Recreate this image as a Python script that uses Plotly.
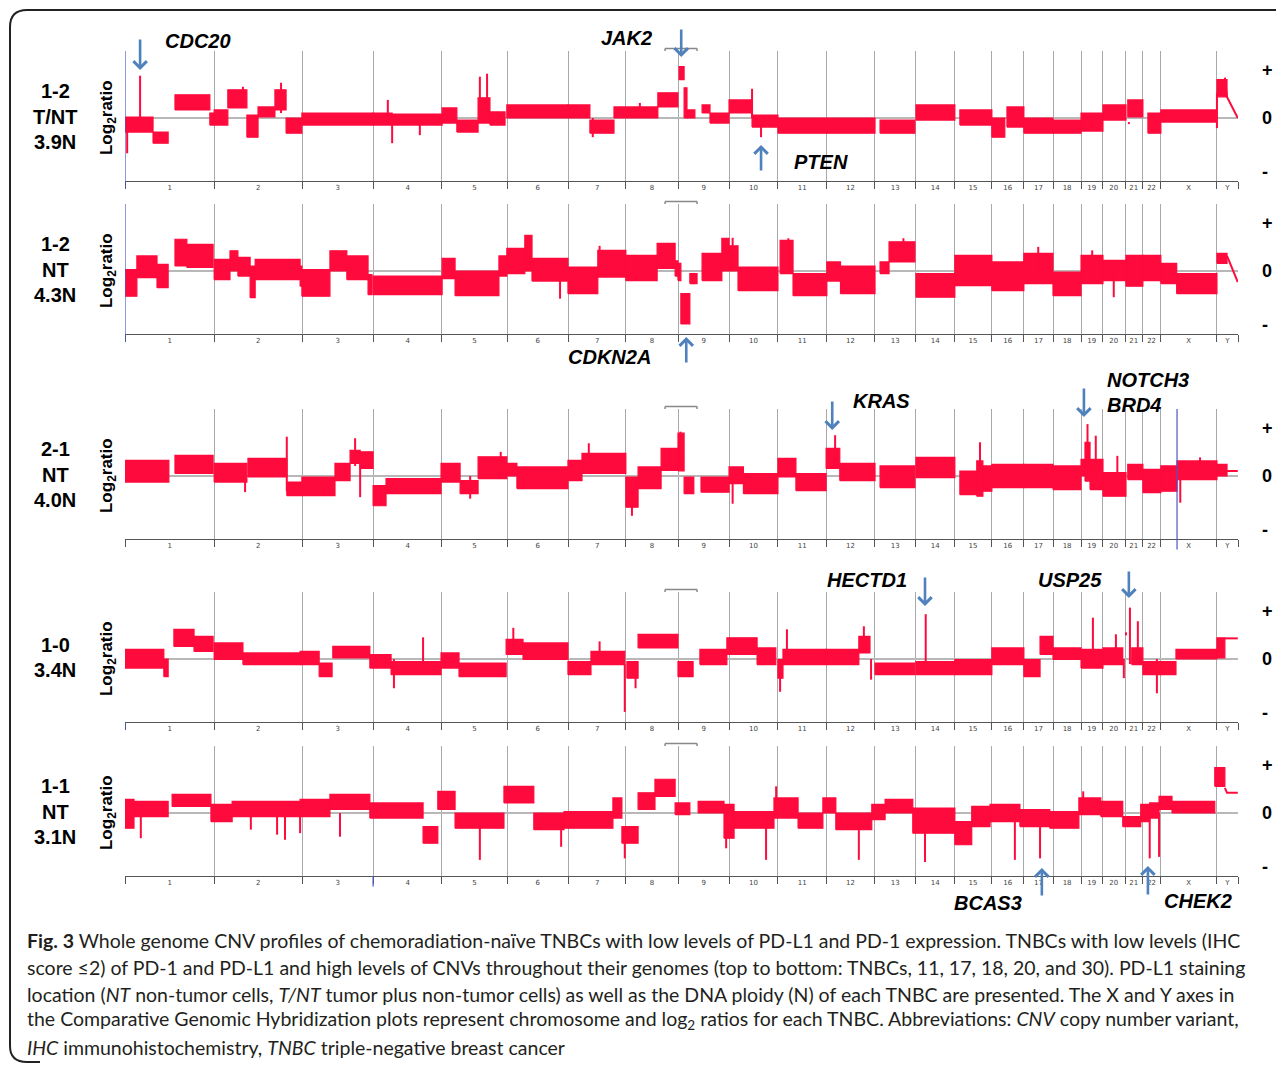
import plotly.graph_objects as go

# ---------------- data ----------------
CHROM_NAMES = [str(i) for i in range(1, 23)] + ["X", "Y"]
CHROM_LEN_MB = [249.25, 243.2, 198.0, 191.15, 180.9, 171.1, 159.1, 146.35, 141.2,
                135.55, 135.0, 133.85, 115.15, 107.35, 102.55, 90.35, 81.2, 78.1,
                59.1, 63.0, 48.1, 51.3, 155.3, 59.4]

PANEL_ID = ["1-2", "1-2", "2-1", "1-0", "1-1"]
PANEL_STAIN = ["T/NT", "NT", "NT", "", "NT"]
PANEL_PLOIDY = ["3.9N", "4.3N", "4.0N", "3.4N", "3.1N"]

# segments: [start Mb (genome), end Mb, low log2 ratio, high log2 ratio]
P1_SEG = [
    [0, 78, -0.28, 0.02], [78, 120, -0.5, -0.28], [139, 236, 0.16, 0.46], [236, 248, -0.14, 0.1],
    [248, 286, -0.14, 0.16], [286, 339, 0.2, 0.56], [339, 370, -0.38, 0.06], [370, 417, 0.02, 0.22],
    [417, 448, 0.16, 0.56], [448, 492, -0.3, 0.0], [492, 690, -0.14, 0.1], [690, 743, -0.14, 0.1],
    [743, 882, -0.14, 0.08], [882, 923, -0.1, 0.2], [923, 982, -0.28, -0.04], [982, 1015, -0.1, 0.4],
    [1015, 1057, -0.14, 0.12], [1062, 1232, 0.0, 0.26], [1232, 1293, 0.0, 0.26], [1293, 1360, -0.3, -0.04],
    [1360, 1482, 0.0, 0.22], [1482, 1538, 0.22, 0.5], [1541, 1555, 0.76, 1.02], [1555, 1563, 0.0, 0.6],
    [1563, 1585, 0.0, 0.16], [1605, 1627, 0.1, 0.26], [1627, 1680, -0.1, 0.1], [1680, 1744, 0.1, 0.36],
    [1744, 1816, -0.18, 0.06], [1816, 1952, -0.3, 0.0], [1952, 2086, -0.3, 0.0], [2100, 2197, -0.3, -0.04],
    [2200, 2308, -0.04, 0.26], [2322, 2411, -0.14, 0.16], [2411, 2447, -0.38, 0.0], [2453, 2500, -0.18, 0.22],
    [2500, 2581, -0.3, 0.0], [2581, 2659, -0.3, -0.04], [2659, 2720, -0.26, 0.1], [2720, 2784, -0.04, 0.26],
    [2789, 2831, 0.02, 0.36], [2845, 2881, -0.3, 0.1], [2881, 3037, -0.08, 0.16], [3037, 3065, 0.42, 0.76],
]
P1_SPK = [[6, -0.7, 0.0], [42, -0.1, 0.84], [328, 0.2, 0.62], [434, 0.1, 0.7], [731, -0.1, 0.36],
          [743, -0.5, 0.0], [820, -0.34, 0.0], [987, 0.0, 0.82], [1007, 0.0, 0.88], [1301, -0.38, 0.0],
          [1432, 0.0, 0.3], [1744, 0.0, 0.58], [1769, -0.38, 0.0], [3037, -0.2, 0.5], [2792, -0.12, -0.08]]
P1_TAIL = [[3059, 0.8], [3065, 0.42], [3095, 0.0]]

P2_SEG = [
    [0, 33, -0.5, 0.03], [33, 89, -0.13, 0.3], [89, 120, -0.33, 0.13], [139, 172, 0.1, 0.63],
    [172, 245, 0.07, 0.53], [248, 292, -0.17, 0.23], [292, 314, 0.0, 0.4], [314, 348, -0.1, 0.27],
    [348, 362, -0.53, 0.1], [362, 487, -0.17, 0.23], [487, 492, -0.3, 0.1], [492, 570, -0.5, 0.03],
    [570, 617, 0.0, 0.4], [617, 676, -0.17, 0.3], [676, 687, -0.47, -0.07], [690, 882, -0.47, -0.1],
    [882, 918, -0.15, 0.25], [918, 1040, -0.49, 0.0], [1040, 1062, -0.1, 0.3], [1062, 1112, -0.05, 0.45],
    [1112, 1132, 0.0, 0.71], [1132, 1232, -0.2, 0.25], [1232, 1315, -0.45, 0.08], [1315, 1393, -0.12, 0.41],
    [1393, 1480, -0.19, 0.31], [1480, 1530, 0.05, 0.55], [1530, 1538, -0.1, 0.2], [1538, 1546, -0.19, 0.15],
    [1546, 1571, -1.05, -0.45], [1571, 1591, -0.25, -0.05], [1605, 1660, -0.19, 0.35], [1660, 1680, 0.0, 0.65],
    [1680, 1705, 0.0, 0.5], [1705, 1816, -0.39, 0.08], [1822, 1858, -0.05, 0.61], [1858, 1952, -0.49, -0.05],
    [1952, 1990, -0.2, 0.18], [1990, 2086, -0.45, 0.1], [2100, 2125, -0.05, 0.18], [2125, 2197, 0.18, 0.58],
    [2200, 2308, -0.52, -0.05], [2308, 2411, -0.29, 0.31], [2411, 2500, -0.39, 0.18], [2500, 2581, -0.25, 0.35],
    [2581, 2659, -0.49, -0.02], [2659, 2720, -0.25, 0.31], [2720, 2784, -0.19, 0.21], [2784, 2831, -0.3, 0.31],
    [2831, 2881, -0.19, 0.31], [2881, 2925, -0.25, 0.15], [2925, 3037, -0.45, -0.05], [3037, 3065, 0.15, 0.35],
]
P2_SPK = [[1210, -0.55, 0.0], [1320, 0.0, 0.5], [1670, 0.2, 0.65], [1690, 0.0, 0.66], [1845, 0.0, 0.65],
          [2165, 0.2, 0.65], [2540, 0.0, 0.48], [2690, 0.0, 0.41], [2750, -0.52, 0.0], [1122, 0.0, 0.71]]
P2_TAIL = [[3065, 0.3], [3095, -0.22]]

P3_SEG = [
    [0, 122, -0.12, 0.31], [139, 245, 0.05, 0.41], [248, 339, -0.12, 0.25], [342, 450, -0.02, 0.35],
    [450, 492, -0.39, -0.12], [492, 584, -0.39, -0.02], [584, 626, -0.09, 0.25], [626, 654, 0.25, 0.51],
    [654, 690, 0.15, 0.48], [690, 726, -0.59, -0.19], [726, 879, -0.35, -0.05], [879, 932, -0.12, 0.25],
    [932, 982, -0.35, -0.09], [982, 1062, -0.05, 0.38], [1062, 1090, 0.0, 0.25], [1090, 1232, -0.25, 0.18],
    [1232, 1271, -0.09, 0.31], [1271, 1393, 0.05, 0.45], [1393, 1427, -0.62, -0.02], [1427, 1491, -0.25, 0.18],
    [1491, 1538, 0.11, 0.55], [1538, 1555, 0.1, 0.85], [1555, 1582, -0.35, -0.02], [1602, 1680, -0.32, -0.02],
    [1680, 1720, -0.15, 0.18], [1720, 1816, -0.35, 0.05], [1816, 1866, -0.02, 0.35], [1866, 1950, -0.29, 0.05],
    [1950, 1988, 0.15, 0.55], [1988, 2086, -0.09, 0.25], [2100, 2197, -0.23, 0.2], [2200, 2308, -0.03, 0.37],
    [2322, 2369, -0.37, 0.1], [2369, 2386, -0.4, 0.3], [2386, 2411, -0.3, 0.2], [2411, 2500, -0.23, 0.23],
    [2500, 2581, -0.23, 0.23], [2581, 2659, -0.27, 0.2], [2659, 2670, 0.0, 0.33], [2670, 2684, -0.1, 0.67],
    [2684, 2720, -0.27, 0.33], [2720, 2784, -0.4, 0.07], [2789, 2831, -0.07, 0.23], [2831, 2881, -0.33, 0.13],
    [2881, 2926, -0.3, 0.2], [2926, 3037, -0.07, 0.3], [3037, 3065, 0.0, 0.23],
]
P3_SPK = [[334, -0.32, 0.0], [450, -0.3, 0.78], [640, 0.2, 0.75], [654, -0.42, 0.3], [960, -0.45, 0.0],
          [1045, 0.0, 0.48], [1290, 0.1, 0.65], [1410, -0.79, -0.3], [1545, 0.3, 0.88], [1690, -0.55, 0.0],
          [1975, 0.2, 0.81], [2378, 0.0, 0.67], [2677, 0.1, 1.03], [2700, 0.0, 0.8], [2760, 0.0, 0.4],
          [2935, -0.53, 0.0], [2990, 0.0, 0.37]]
P3_TAIL = [[3065, 0.1], [3095, 0.1]]

P4_SEG = [
    [0, 108, -0.18, 0.19], [108, 120, -0.35, 0.0], [136, 192, 0.25, 0.59], [192, 245, 0.15, 0.45],
    [248, 328, -0.01, 0.32], [328, 487, -0.11, 0.12], [487, 540, -0.11, 0.15], [540, 576, -0.35, -0.08],
    [578, 681, 0.02, 0.25], [681, 740, -0.18, 0.09], [740, 879, -0.31, -0.05], [879, 929, -0.18, 0.12],
    [929, 1060, -0.35, -0.08], [1060, 1107, 0.09, 0.39], [1107, 1232, -0.01, 0.32], [1232, 1296, -0.31, -0.05],
    [1296, 1390, -0.11, 0.15], [1396, 1427, -0.38, -0.05], [1427, 1538, 0.22, 0.49], [1538, 1580, -0.35, -0.05],
    [1599, 1674, -0.11, 0.19], [1674, 1758, 0.09, 0.42], [1758, 1810, -0.11, 0.22], [1816, 1830, -0.38, -0.01],
    [1830, 1950, -0.11, 0.19], [1950, 2041, -0.11, 0.19], [2041, 2072, 0.12, 0.45], [2086, 2197, -0.31, -0.08],
    [2200, 2308, -0.31, -0.05], [2308, 2411, -0.31, -0.01], [2411, 2500, -0.11, 0.22], [2500, 2545, -0.35, -0.01],
    [2545, 2581, 0.09, 0.45], [2581, 2659, -0.01, 0.22], [2659, 2720, -0.18, 0.19], [2720, 2775, -0.11, 0.22],
    [2800, 2831, -0.11, 0.22], [2831, 2881, -0.31, -0.05], [2881, 2923, -0.31, -0.05], [2923, 3037, 0.0, 0.19],
    [3037, 3059, 0.02, 0.42],
]
P4_SPK = [[748, -0.58, 0.0], [829, -0.1, 0.43], [1080, 0.1, 0.62], [1320, 0.0, 0.35], [1390, -1.05, -0.1],
          [1420, -0.58, -0.2], [1822, -0.65, 0.0], [1841, 0.0, 0.59], [2055, 0.2, 0.65], [2075, -0.41, 0.0],
          [2227, -0.05, 0.89], [2692, 0.0, 0.82], [2756, 0.0, 0.49], [2778, -0.38, 0.0], [2795, -0.1, 1.02],
          [2817, 0.0, 0.75], [2870, -0.68, 0.0], [2784, 0.47, 0.53]]
P4_TAIL = [[3059, 0.41], [3095, 0.41]]

P5_SEG = [
    [0, 25, -0.3, 0.27], [25, 120, -0.07, 0.23], [131, 239, 0.13, 0.37], [239, 298, -0.17, 0.17],
    [298, 487, -0.07, 0.23], [487, 570, -0.07, 0.27], [570, 681, 0.07, 0.37], [681, 829, -0.1, 0.2],
    [829, 870, -0.6, -0.27], [870, 918, 0.07, 0.43], [918, 1054, -0.3, 0.0], [1054, 1137, 0.2, 0.53],
    [1137, 1221, -0.33, 0.0], [1221, 1357, -0.3, 0.03], [1357, 1382, -0.1, 0.3], [1382, 1427, -0.6, -0.27],
    [1427, 1474, 0.07, 0.4], [1474, 1530, 0.33, 0.67], [1530, 1571, -0.03, 0.2], [1594, 1666, 0.0, 0.23],
    [1666, 1694, -0.5, 0.17], [1694, 1805, -0.3, 0.03], [1805, 1872, -0.1, 0.3], [1872, 1941, -0.3, 0.0],
    [1941, 1977, 0.0, 0.3], [1977, 2077, -0.33, 0.0], [2077, 2114, -0.13, 0.17], [2114, 2191, 0.0, 0.27],
    [2191, 2308, -0.4, 0.1], [2308, 2355, -0.63, -0.17], [2355, 2406, -0.27, 0.13], [2406, 2489, -0.17, 0.17],
    [2489, 2572, -0.27, 0.07], [2572, 2653, -0.3, 0.03], [2653, 2714, -0.03, 0.3], [2714, 2775, -0.07, 0.23],
    [2775, 2825, -0.27, -0.07], [2825, 2850, -0.17, 0.17], [2850, 2876, -0.1, 0.2], [2876, 2912, 0.07, 0.33],
    [2912, 3031, 0.0, 0.23], [3031, 3059, 0.53, 0.9],
]
P5_SPK = [[44, -0.5, 0.0], [350, -0.33, 0.0], [423, -0.43, 0.0], [445, -0.53, 0.0], [487, -0.4, 0.0],
          [598, -0.47, 0.0], [987, -0.93, 0.0], [1213, -0.67, 0.0], [1390, -0.9, -0.3], [1672, -0.7, 0.0],
          [1783, -0.93, 0.0], [1811, 0.1, 0.53], [2041, -0.93, 0.0], [2225, -0.97, 0.0], [2475, -0.93, 0.0],
          [2545, -0.9, 0.0], [2665, 0.0, 0.43], [2850, -0.9, 0.0], [2876, -0.87, 0.0]]
P5_TAIL = [[3059, 0.5], [3065, 0.4], [3095, 0.4]]

SEGS = [P1_SEG, P2_SEG, P3_SEG, P4_SEG, P5_SEG]
SPKS = [P1_SPK, P2_SPK, P3_SPK, P4_SPK, P5_SPK]
TAILS = [P1_TAIL, P2_TAIL, P3_TAIL, P4_TAIL, P5_TAIL]

# genes: name, panel index, genome position (Mb)
GENE_NAME = ["CDC20", "JAK2", "PTEN", "CDKN2A", "KRAS", "NOTCH3", "HECTD1", "USP25", "BCAS3", "CHEK2"]
GENE_PANEL = [0, 0, 0, 1, 2, 2, 3, 3, 4, 4]
GENE_MB = [42, 1547, 1769, 1561, 1967, 2667, 2225, 2792, 2550, 2845]

# ---------------- layout helpers ----------------
# The page body has an 8px margin, so the figure is drawn 8px smaller and all
# reference pixel positions are shifted by 8px.
OFF = 8
W, H = 1284 - OFF, 1065 - OFF
def px(x):
    return (x - OFF) / W
def py(y):
    return 1 - (y - OFF) / H

RED = "#ff0a3c"
BLUE = "#4f81bd"
X0, X1 = 125, 1238
PANEL_TOP = [51, 204, 409, 592, 746]
PANEL_H = 130
YR = [-1.25, 1.33]

bounds = [0.0]
for L in CHROM_LEN_MB:
    bounds.append(bounds[-1] + L)
mids = [(bounds[i] + bounds[i + 1]) / 2 for i in range(len(CHROM_LEN_MB))]
total = bounds[-1]

fig = go.Figure()
layout = dict(width=W, height=H, margin=dict(l=0, r=0, t=0, b=0),
              paper_bgcolor="white", plot_bgcolor="white", showlegend=False)

shapes = []
annotations = []

for i in range(5):
    xa = "x" if i == 0 else f"x{i+1}"
    ya = "y" if i == 0 else f"y{i+1}"
    xs, ys = [], []
    for s, e, lo, hi in SEGS[i]:
        xs += [s, e, e, s, s, None]
        ys += [lo, lo, hi, hi, lo, None]
    fig.add_trace(go.Scatter(x=xs, y=ys, mode="lines", fill="toself", fillcolor=RED,
                             line=dict(color=RED, width=1.2), xaxis=xa, yaxis=ya,
                             hoverinfo="skip"))
    sx, sy = [], []
    for x, lo, hi in SPKS[i]:
        sx += [x, x, None]
        sy += [lo, hi, None]
    fig.add_trace(go.Scatter(x=sx, y=sy, mode="lines", line=dict(color=RED, width=2),
                             xaxis=xa, yaxis=ya, hoverinfo="skip"))
    fig.add_trace(go.Scatter(x=[p[0] for p in TAILS[i]], y=[p[1] for p in TAILS[i]], mode="lines",
                             line=dict(color=RED, width=2), xaxis=xa, yaxis=ya, hoverinfo="skip"))

    top = PANEL_TOP[i]
    bot = top + PANEL_H
    key = "" if i == 0 else str(i + 1)
    layout["xaxis" + key] = dict(
        domain=[px(X0), px(X1)], range=[0, total], anchor=ya,
        showline=True, linecolor="#555", linewidth=1, zeroline=False, showgrid=False,
        tickmode="array", tickvals=mids, ticktext=CHROM_NAMES, ticks="",
        tickfont=dict(size=7, color="#444", family="DejaVu Sans"),
        minor=dict(tickmode="array", tickvals=bounds, showgrid=True, gridcolor="#a9a9a9",
                   gridwidth=1, ticks="outside", ticklen=7, tickcolor="#555", tickwidth=1),
        fixedrange=True,
    )
    layout["yaxis" + key] = dict(
        domain=[py(bot), py(top)], range=YR, anchor=xa, side="right",
        tickmode="array", tickvals=[-1.06, 0, 0.96], ticktext=["-", "0", "+"], ticks="",
        showgrid=False, showline=False, zeroline=True, zerolinecolor="#b8b8b8", zerolinewidth=1.5,
        tickfont=dict(size=18, color="black", family="Liberation Sans", weight="bold"),
        ticklabelstandoff=23, fixedrange=True,
    )
    # centromere bracket above chr9
    shapes.append(dict(type="line", xref=xa, yref=f"{ya} domain", x0=1502, x1=1591,
                       y0=1.02, y1=1.02, line=dict(color="#888", width=1.5)))
    for xb in (1502, 1591):
        shapes.append(dict(type="line", xref=xa, yref=f"{ya} domain", x0=xb, x1=xb,
                           y0=1.0, y1=1.02, line=dict(color="#888", width=1.5)))

    # left labels
    zero_px = top + PANEL_H * YR[1] / (YR[1] - YR[0])
    annotations.append(dict(xref="paper", yref="paper", x=px(108), y=py(zero_px),
                            text="Log<sub>2</sub>ratio", textangle=-90, showarrow=False,
                            font=dict(size=17, family="Liberation Sans", color="black", weight="bold"),
                            xanchor="center", yanchor="middle"))
    lines = [t for t in (PANEL_ID[i], PANEL_STAIN[i], PANEL_PLOIDY[i]) if t]
    n = len(lines)
    for k, t in enumerate(lines):
        yc = zero_px - 1.5 + (k - (n - 1) / 2) * 25.5
        annotations.append(dict(xref="paper", yref="paper", x=px(55), y=py(yc), text=t,
                                showarrow=False, xanchor="center", yanchor="middle",
                                font=dict(size=20, family="Liberation Sans", color="black", weight="bold")))

# blue start/marker lines
BLUE_LINE = "#4a55c8"
blue_marks = [(0, 0, -0.06, 1.0), (1, 0, -0.06, 1.0), (2, 2926, -0.08, 1.0), (3, 0, -0.06, 0.0), (4, 690, -0.08, 0.0)]
for pi, xv, y0, y1 in blue_marks:
    xa = "x" if pi == 0 else f"x{pi+1}"
    ya = "y" if pi == 0 else f"y{pi+1}"
    shapes.append(dict(type="line", xref=xa, yref=f"{ya} domain", x0=xv, x1=xv, y0=y0, y1=y1,
                       line=dict(color=BLUE_LINE, width=1.2)))

# gene arrows (tip px y, tail px y)
ARROW_TIP = [70, 57, 145, 337, 430, 417, 606, 598, 868, 866]
ARROW_TAIL = [38, 28, 172, 364, 400, 387, 576, 570, 897, 896]
for g in range(len(GENE_NAME)):
    pi = GENE_PANEL[g]
    xa = "x" if pi == 0 else f"x{pi+1}"
    annotations.append(dict(xref=xa, yref="paper", x=GENE_MB[g], y=py(ARROW_TIP[g]), text="",
                            showarrow=True, axref="pixel", ayref="pixel", ax=0,
                            ay=ARROW_TAIL[g] - ARROW_TIP[g], arrowhead=4, arrowsize=1.0,
                            arrowwidth=2.6, arrowcolor=BLUE, standoff=0))

# gene labels
LABELS = [("CDC20", 198, 41, "center"), ("JAK2", 626, 38, "center"), ("PTEN", 821, 162, "center"),
          ("CDKN2A", 609, 357, "center"), ("KRAS", 881, 401, "center"), ("NOTCH3", 1105, 380, "left"),
          ("BRD4", 1105, 405, "left"), ("HECTD1", 867, 580, "center"), ("USP25", 1070, 580, "center"),
          ("BCAS3", 988, 903, "center"), ("CHEK2", 1198, 901, "center")]
for t, x, y, anc in LABELS:
    annotations.append(dict(xref="paper", yref="paper", x=px(x), y=py(y), text=f"<b><i>{t}</i></b>",
                            showarrow=False, xanchor=anc, yanchor="middle",
                            font=dict(size=20, family="Liberation Sans", color="black")))

# caption
CAPTION = [
    "<b>Fig. 3</b> Whole genome CNV profiles of chemoradiation-naïve TNBCs with low levels of PD-L1 and PD-1 expression. TNBCs with low levels (IHC",
    "score ≤2) of PD-1 and PD-L1 and high levels of CNVs throughout their genomes (top to bottom: TNBCs, 11, 17, 18, 20, and 30). PD-L1 staining",
    "location (<i>NT</i> non-tumor cells, <i>T/NT</i> tumor plus non-tumor cells) as well as the DNA ploidy (N) of each TNBC are presented. The X and Y axes in",
    "the Comparative Genomic Hybridization plots represent chromosome and log<sub>2</sub> ratios for each TNBC. Abbreviations: <i>CNV</i> copy number variant,",
    "<i>IHC</i> immunohistochemistry, <i>TNBC</i> triple-negative breast cancer",
]
CAP_Y = [940, 967, 994, 1020, 1047]
for t, y in zip(CAPTION, CAP_Y):
    annotations.append(dict(xref="paper", yref="paper", x=px(25), y=py(y), text=t, showarrow=False,
                            xanchor="left", yanchor="middle",
                            font=dict(size=19.5, family="Lato", color="#231f20")))

# rounded frame
frame = (f"M {px(1300)},{py(10)} L {px(27)},{py(10)} Q {px(10)},{py(10)} {px(10)},{py(27)} "
         f"L {px(10)},{py(1046)} Q {px(10)},{py(1062)} {px(27)},{py(1062)} L {px(40)},{py(1062)}")
shapes.append(dict(type="path", xref="paper", yref="paper", path=frame,
                   line=dict(color="#222", width=2)))

layout["shapes"] = shapes
layout["annotations"] = annotations
fig.update_layout(**layout)
fig.write_html("out.html")
